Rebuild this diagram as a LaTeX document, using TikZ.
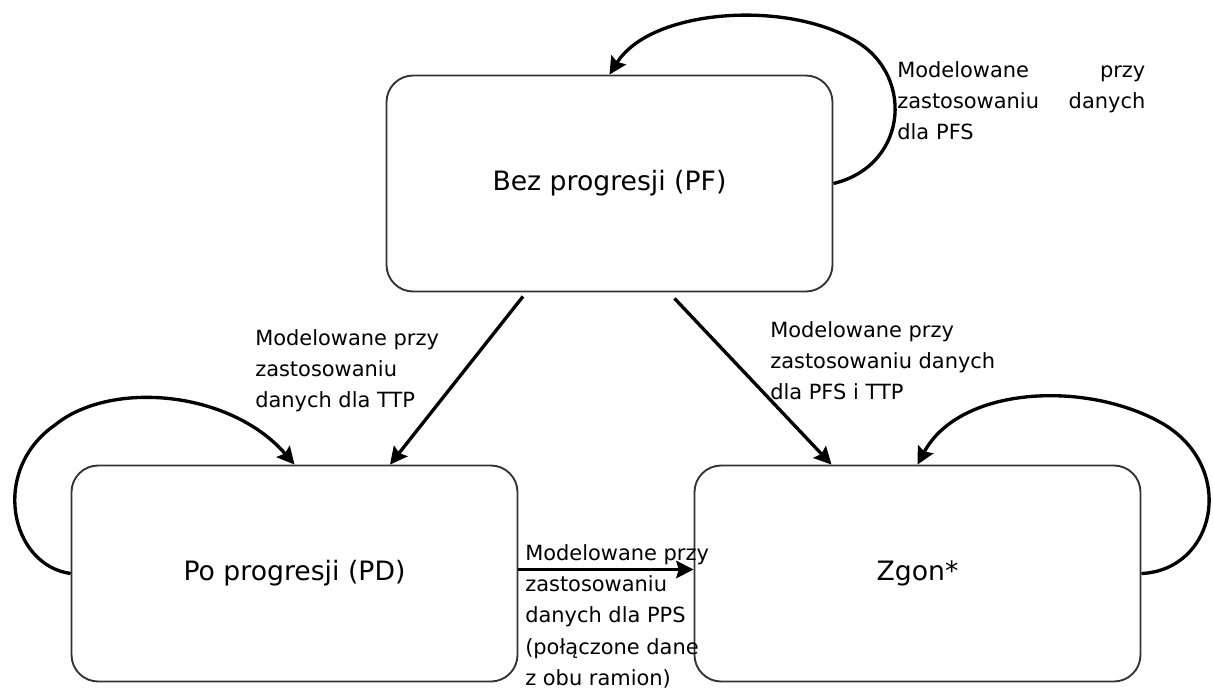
\documentclass[tikz,border=0pt]{standalone}
\usepackage{fontspec}
\setmainfont{DejaVu Sans}
\usepackage{tikz}
\usetikzlibrary{arrows.meta,calc}

\begin{document}
\begin{tikzpicture}[x=0.75pt,y=-0.75pt,
  stan/.style={draw=black!80,line width=1.4pt,rounded corners=20pt,
    minimum width=334.5pt,minimum height=162pt,inner sep=0pt,
    font=\fontsize{20}{24}\selectfont},
  opis/.style={anchor=north west,inner sep=0pt,align=left,
    font=\fontsize{15.7}{23.5}\selectfont},
  strz/.style={line width=2.5pt,-{Stealth[length=13pt,width=13pt,inset=2pt]}}]
\useasboundingbox (0,0) rectangle (1213,690);
\node[stan] (PF) at (609.5,183.5) {Bez progresji (PF)};
\node[stan] (PD) at (294.5,573.5) {Po progresji (PD)};
\node[stan] (Zgon) at (917.5,573.5) {Zgon*};
\draw[strz] ($(PF.south)+(-86.5,4)$) -- ($(PD.north)+(95.5,0)$);
\draw[strz] ($(PF.south)+(65,6)$) -- ($(Zgon.north)+(-86,0)$);
\draw[strz] ($(PD.east)+(0,-4)$) -- ($(Zgon.west)+(0,-4)$);
\draw[strz] (PF.east) .. controls (910,165) and (915,70) .. (850,38)
  .. controls (780,0) and (650,10) .. (PF.north);
\draw[strz] (PD.west) .. controls (10,565) and (-10,470) .. (55,425)
  .. controls (110,380) and (230,390) .. (PD.north);
\draw[strz] (Zgon.east) .. controls (1215,570) and (1237,470) .. (1165,425)
  .. controls (1090,380) and (960,385) .. (Zgon.north);
\node[opis,text width=186pt] (opisPF) at (897,61)
  {Modelowane\hfill przy\\zastosowaniu\hfill danych\\dla PFS};
\node[opis] (opisTTP) at (255,329) {Modelowane przy\\zastosowaniu\\danych dla TTP};
\node[opis] (opisZgon) at (770,321) {Modelowane przy\\zastosowaniu danych\\dla PFS i TTP};
\node[opis] (opisPPS) at (525,544)
  {Modelowane przy\\zastosowaniu\\danych dla PPS\\(połączone dane\\z obu ramion)};
\end{tikzpicture}
\end{document}
